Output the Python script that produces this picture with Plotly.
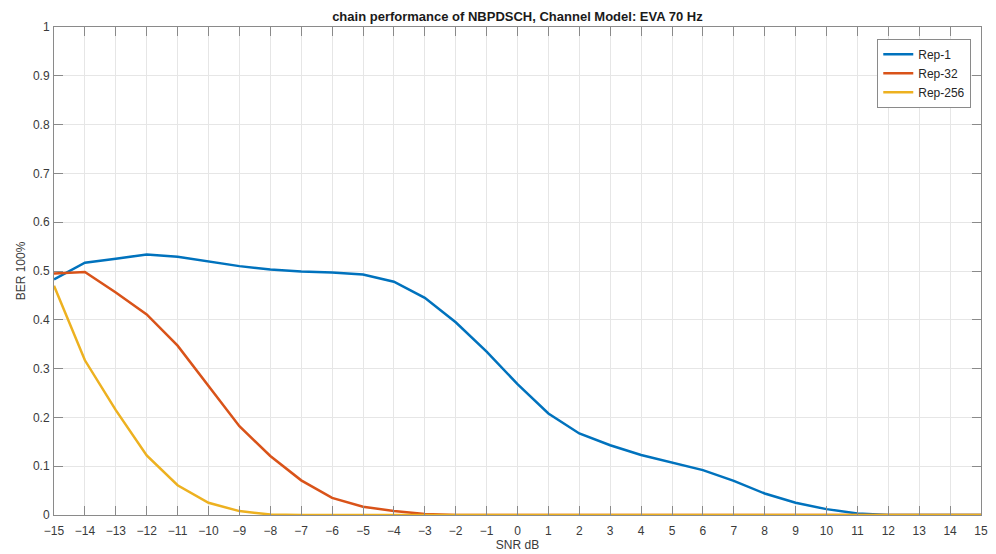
import plotly.graph_objects as go

snr = list(range(-15, 16))

rep1 = [0.483, 0.517, 0.525, 0.534, 0.529, 0.520, 0.510, 0.503, 0.499, 0.497,
        0.493, 0.478, 0.445, 0.395, 0.335, 0.268, 0.208, 0.167, 0.143, 0.123,
        0.108, 0.092, 0.070, 0.044, 0.025, 0.012, 0.003, 0.0, 0.0, 0.0, 0.0]
rep32 = [0.495, 0.498, 0.456, 0.411, 0.347, 0.265, 0.182, 0.121, 0.071, 0.035,
         0.017, 0.008, 0.002, 0.0, 0.0, 0.0, 0.0, 0.0, 0.0, 0.0,
         0.0, 0.0, 0.0, 0.0, 0.0, 0.0, 0.0, 0.0, 0.0, 0.0, 0.0]
rep256 = [0.470, 0.317, 0.215, 0.122, 0.061, 0.025, 0.008, 0.001, 0.0, 0.0,
          0.0, 0.0, 0.0, 0.0, 0.0, 0.0, 0.0, 0.0, 0.0, 0.0,
          0.0, 0.0, 0.0, 0.0, 0.0, 0.0, 0.0, 0.0, 0.0, 0.0, 0.0]

series_names = ["Rep-1", "Rep-32", "Rep-256"]
colors = ["#0072BD", "#D95319", "#EDB120"]

x_ticks = list(range(-15, 16))
y_ticks = [0, 0.1, 0.2, 0.3, 0.4, 0.5, 0.6, 0.7, 0.8, 0.9, 1]
y_ticktext = ["0", "0.1", "0.2", "0.3", "0.4", "0.5", "0.6", "0.7", "0.8", "0.9", "1"]

fig = go.Figure()
for name, vals, c in zip(series_names, [rep1, rep32, rep256], colors):
    fig.add_trace(go.Scatter(x=snr, y=vals, mode="lines", name=name,
                             line=dict(color=c, width=2.5)))

axis_common = dict(
    showgrid=True, gridcolor="#e6e6e6", gridwidth=1,
    showline=True, linecolor="#8a8a8a", linewidth=1, mirror="ticks",
    ticks="inside", ticklen=9, tickcolor="#8a8a8a", tickwidth=1,
    zeroline=False, automargin=False,
    tickfont=dict(family="Liberation Sans, Arial, sans-serif", size=12, color="#3a3a3a"),
)

fig.update_layout(
    width=996, height=554,
    margin=dict(l=54, r=15, t=27, b=39),
    paper_bgcolor="white", plot_bgcolor="white",
    font=dict(family="Liberation Sans, Arial, sans-serif", size=12, color="#262626"),
    title=dict(text="<b>chain performance of NBPDSCH, Channel Model: EVA 70 Hz</b>",
               x=0.5195, xanchor="center", y=0.971, yanchor="middle",
               font=dict(size=13, color="#1a1a1a")),
    xaxis=dict(range=[-15, 15], tickvals=x_ticks, ticklabelstandoff=5,
               title=dict(text="SNR dB", standoff=2, font=dict(size=12, color="#3a3a3a")),
               **axis_common),
    yaxis=dict(range=[0, 1], tickvals=y_ticks, ticktext=y_ticktext, ticklabelstandoff=1,
               title=dict(text="BER 100%", standoff=4, font=dict(size=12, color="#3a3a3a")),
               **axis_common),
    legend=dict(x=0.9895, y=0.976, xanchor="right", yanchor="top",
                bgcolor="white", bordercolor="#8a8a8a", borderwidth=1,
                font=dict(size=12, color="#262626"),
                tracegroupgap=0, itemwidth=30),
    showlegend=True,
)

fig.write_html("out.html")
